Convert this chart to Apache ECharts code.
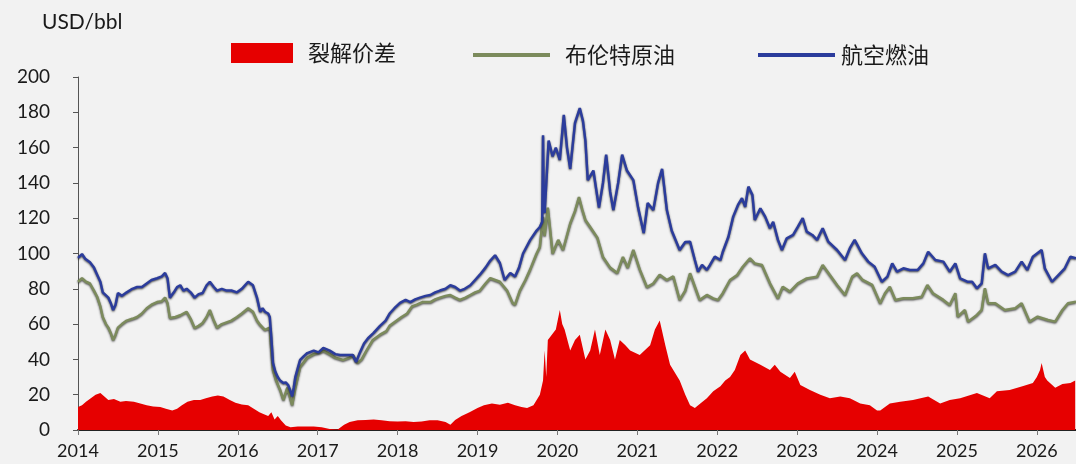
<!DOCTYPE html>
<html>
<head>
<meta charset="utf-8">
<script src="https://cdn.jsdelivr.net/npm/echarts@6/dist/echarts.min.js"></script>
<style>
html,body{margin:0;padding:0;background:#f2f2f2;}
#chart{width:1076px;height:464px;}
</style>
</head>
<body>
<div id="chart"></div>
<script>
// Series names
const seriesNames = ['裂解价差', '布伦特原油', '航空燃油'];
const unitLabel = 'USD/bbl';
// x = decimal year, y = USD/bbl
const crackSpread = [
[2014.00,13],[2014.05,14],[2014.10,16],[2014.16,18],[2014.22,20],[2014.28,21],[2014.33,19],[2014.38,17],[2014.45,17.5],[2014.53,16],[2014.60,16.5],[2014.70,16],[2014.78,15],[2014.86,14],[2014.94,13.3],[2015.03,13],[2015.10,12],[2015.18,11],[2015.24,12],[2015.30,14],[2015.37,16],[2015.45,17],[2015.53,17],[2015.60,18],[2015.68,19],[2015.75,19.5],[2015.82,19],[2015.90,17],[2015.97,15.5],[2016.05,14.5],[2016.13,14],[2016.20,12],[2016.27,10],[2016.32,9],[2016.38,8],[2016.42,10],[2016.46,6],[2016.50,8],[2016.54,5.5],[2016.60,2.5],[2016.66,1.5],[2016.75,2],[2016.85,2],[2016.95,2],[2017.05,1.5],[2017.15,0.5],[2017.25,0.3],[2017.33,3],[2017.40,4.5],[2017.50,5.5],[2017.60,5.7],[2017.70,6],[2017.80,5.5],[2017.90,5],[2018.00,4.8],[2018.10,5],[2018.20,4.5],[2018.30,4.8],[2018.40,5.5],[2018.50,5.5],[2018.60,4.5],[2018.66,3],[2018.72,5.7],[2018.80,8],[2018.90,10],[2019.00,12.4],[2019.08,14],[2019.18,15],[2019.28,14.3],[2019.38,15.5],[2019.47,14],[2019.55,13],[2019.62,12.5],[2019.70,14],[2019.78,20],[2019.82,28],[2019.84,45],[2019.86,30],[2019.88,51],[2019.93,54],[2019.98,57],[2020.03,68],[2020.06,60],[2020.09,57],[2020.16,45],[2020.22,51],[2020.28,54],[2020.35,40],[2020.41,45],[2020.47,57],[2020.53,42.5],[2020.60,57],[2020.66,51],[2020.72,40],[2020.78,51],[2020.85,48],[2020.91,45],[2021.03,42.5],[2021.16,48],[2021.22,57],[2021.28,62],[2021.35,48],[2021.41,37],[2021.53,28],[2021.60,20],[2021.66,14],[2021.72,12.5],[2021.80,15.5],[2021.87,18],[2021.95,22],[2022.04,24.8],[2022.10,28],[2022.16,30],[2022.22,34],[2022.29,42.5],[2022.35,45],[2022.41,40],[2022.54,37],[2022.66,34],[2022.72,37],[2022.79,33],[2022.91,29.5],[2022.97,33],[2023.04,25.5],[2023.16,22.7],[2023.29,20],[2023.41,18],[2023.54,19],[2023.66,18],[2023.79,15],[2023.91,14],[2024.00,11],[2024.04,11],[2024.16,15],[2024.29,16],[2024.45,17],[2024.64,19],[2024.79,15],[2024.91,17],[2025.04,18],[2025.25,21],[2025.41,18],[2025.50,22],[2025.66,22.7],[2025.83,25],[2025.95,26.6],[2026.00,30],[2026.04,34],[2026.06,38],[2026.10,30],[2026.13,28],[2026.23,24],[2026.32,26],[2026.42,26.6],[2026.48,28]
];
const brent = [
[2014.00,84],[2014.05,86],[2014.10,84],[2014.15,83],[2014.20,79],[2014.24,75.5],[2014.28,70],[2014.31,64],[2014.35,60],[2014.38,58],[2014.41,55],[2014.44,51],[2014.47,54],[2014.50,58],[2014.55,60],[2014.61,62],[2014.68,63],[2014.74,64],[2014.80,66],[2014.86,69],[2014.92,71],[2014.99,72.5],[2015.05,73],[2015.09,75],[2015.12,72],[2015.15,63.5],[2015.22,64],[2015.28,65],[2015.32,66],[2015.36,67],[2015.41,63],[2015.46,57.8],[2015.51,59],[2015.56,60.6],[2015.61,64],[2015.65,68],[2015.70,62],[2015.74,58],[2015.80,60],[2015.86,61],[2015.92,62],[2015.99,64],[2016.05,66],[2016.13,69],[2016.19,67],[2016.24,62],[2016.28,59.5],[2016.34,56.7],[2016.40,58],[2016.42,45],[2016.44,34],[2016.48,28],[2016.53,22.7],[2016.57,17],[2016.62,24],[2016.65,19],[2016.68,14],[2016.72,24],[2016.78,35.7],[2016.87,41],[2016.95,43],[2017.03,44],[2017.07,45],[2017.15,43],[2017.22,41],[2017.32,39.7],[2017.40,41],[2017.44,42.5],[2017.50,38],[2017.55,40],[2017.61,45],[2017.69,51],[2017.78,54],[2017.86,56],[2017.90,59],[2017.99,62],[2018.05,64],[2018.12,66],[2018.18,70],[2018.24,71],[2018.31,72.5],[2018.41,72.5],[2018.47,74],[2018.53,75],[2018.60,76],[2018.66,76.5],[2018.72,75],[2018.78,73.7],[2018.85,75],[2018.91,76.5],[2018.97,78],[2019.03,79],[2019.10,83],[2019.16,86],[2019.22,85],[2019.28,84],[2019.37,79],[2019.44,72],[2019.47,71],[2019.53,79],[2019.60,85],[2019.66,91],[2019.74,100],[2019.78,103.7],[2019.82,120.7],[2019.84,110],[2019.88,126],[2019.94,100],[2020.01,107.7],[2020.07,102],[2020.16,117],[2020.22,124],[2020.27,132],[2020.31,125],[2020.35,119],[2020.41,115],[2020.50,109],[2020.57,98],[2020.66,92],[2020.75,89],[2020.82,98],[2020.88,92],[2020.95,102],[2021.03,91],[2021.12,81],[2021.20,83],[2021.28,88],[2021.37,85],[2021.45,87],[2021.53,73.7],[2021.60,79],[2021.66,88.8],[2021.75,77.5],[2021.78,73.7],[2021.87,76.5],[2021.95,74.6],[2022.01,73.7],[2022.07,77.5],[2022.16,85],[2022.25,87.8],[2022.32,92.5],[2022.41,97.3],[2022.47,94.4],[2022.56,93.5],[2022.66,83.1],[2022.76,74.6],[2022.82,81.2],[2022.91,78.4],[2023.01,83.1],[2023.12,85.9],[2023.25,86.9],[2023.32,93.5],[2023.41,87.8],[2023.50,82.2],[2023.60,76.5],[2023.69,86.9],[2023.75,88.8],[2023.82,85],[2023.94,82.2],[2024.04,71.8],[2024.10,77.5],[2024.16,81.2],[2024.23,73.7],[2024.33,74.6],[2024.45,74.6],[2024.56,75.5],[2024.63,82.2],[2024.70,77.5],[2024.83,73.7],[2024.91,70.8],[2024.98,77.5],[2025.01,64.2],[2025.10,68],[2025.14,61.4],[2025.25,65.2],[2025.31,68],[2025.35,80.3],[2025.39,71.8],[2025.48,71.8],[2025.60,68],[2025.73,69],[2025.81,71.8],[2025.91,61.4],[2026.01,64.2],[2026.14,62.3],[2026.23,61.4],[2026.32,68],[2026.39,71.8],[2026.49,72.7]
];
const jetFuel = [
[2014.00,97.5],[2014.05,99.7],[2014.09,97],[2014.15,95],[2014.20,92],[2014.24,88],[2014.28,84],[2014.31,78],[2014.38,75],[2014.41,72],[2014.44,68],[2014.47,71],[2014.50,77.6],[2014.55,76],[2014.61,78],[2014.68,80],[2014.74,81],[2014.80,81],[2014.86,83],[2014.92,85],[2014.99,86],[2015.05,87],[2015.09,89],[2015.12,86],[2015.15,75],[2015.20,78],[2015.24,81],[2015.28,82],[2015.32,79],[2015.36,80],[2015.41,78],[2015.46,75],[2015.51,77],[2015.56,77.6],[2015.61,82],[2015.65,84],[2015.70,81],[2015.74,79],[2015.80,80],[2015.86,79],[2015.92,79],[2015.99,78],[2016.05,80],[2016.13,84],[2016.19,82],[2016.24,75],[2016.28,67],[2016.31,69],[2016.34,67],[2016.38,66],[2016.40,64],[2016.42,52],[2016.44,38],[2016.47,33],[2016.50,30],[2016.53,28],[2016.57,26.6],[2016.60,27],[2016.63,25.5],[2016.66,22],[2016.68,19],[2016.70,24],[2016.72,30],[2016.75,35],[2016.78,39.7],[2016.83,42],[2016.87,43.6],[2016.95,45],[2017.01,44],[2017.07,46.5],[2017.15,45],[2017.22,43],[2017.28,42.5],[2017.36,42.5],[2017.44,42.5],[2017.48,38.5],[2017.52,43],[2017.58,49],[2017.63,52],[2017.70,55],[2017.78,59],[2017.85,62],[2017.90,66],[2017.96,69],[2018.03,72],[2018.10,73.7],[2018.16,72.5],[2018.22,74],[2018.28,75],[2018.35,76],[2018.41,76.5],[2018.47,78],[2018.53,79],[2018.60,80],[2018.66,82],[2018.72,81],[2018.78,79],[2018.84,80],[2018.91,82],[2018.97,85],[2019.03,88],[2019.10,92],[2019.16,96],[2019.22,99],[2019.28,94.6],[2019.34,85],[2019.41,89],[2019.47,87],[2019.52,92],[2019.57,100],[2019.66,107.7],[2019.74,113],[2019.78,115],[2019.81,118],[2019.82,167],[2019.83,125],[2019.84,123],[2019.89,164],[2019.94,155],[2019.98,160],[2020.03,153],[2020.08,178.5],[2020.12,160],[2020.16,148],[2020.22,174],[2020.28,182.4],[2020.32,175],[2020.35,164],[2020.38,141.6],[2020.45,147],[2020.52,126],[2020.57,140],[2020.61,156],[2020.66,135],[2020.70,124.6],[2020.76,140],[2020.81,156],[2020.87,147],[2020.95,141.6],[2021.01,126],[2021.08,111.6],[2021.13,128.6],[2021.20,124.6],[2021.26,140],[2021.31,148],[2021.37,124.6],[2021.43,113],[2021.53,102],[2021.60,106.5],[2021.66,106.7],[2021.72,96.3],[2021.76,89.7],[2021.81,93.5],[2021.87,90.7],[2021.91,93.5],[2021.97,98.2],[2022.04,96.3],[2022.07,101],[2022.14,109.5],[2022.20,120.9],[2022.26,127.5],[2022.31,131.3],[2022.35,126.5],[2022.39,137.9],[2022.44,133.2],[2022.47,119],[2022.54,125.6],[2022.60,120.9],[2022.66,114.3],[2022.70,118],[2022.76,107.7],[2022.81,102],[2022.87,108.6],[2022.95,110.5],[2023.01,115.2],[2023.07,120],[2023.12,112.4],[2023.19,110.5],[2023.25,107.7],[2023.32,114.3],[2023.39,106.7],[2023.50,102],[2023.60,96.3],[2023.66,103],[2023.72,107.7],[2023.81,100.1],[2023.89,95.4],[2023.97,92.5],[2024.06,84],[2024.13,86.9],[2024.19,94.4],[2024.25,89.7],[2024.33,91.6],[2024.41,90.7],[2024.51,90.7],[2024.58,94.4],[2024.64,101],[2024.73,96.3],[2024.83,95.4],[2024.91,89.7],[2024.98,94.4],[2025.04,85.9],[2025.13,84],[2025.19,84],[2025.25,80.3],[2025.31,83.1],[2025.35,100.1],[2025.39,91.6],[2025.48,93.5],[2025.56,89.7],[2025.64,87.8],[2025.73,89.7],[2025.81,95.4],[2025.88,90.7],[2025.95,98.2],[2026.06,102],[2026.10,91.6],[2026.19,84],[2026.27,87.8],[2026.35,91.6],[2026.42,98.2],[2026.49,97.3]
];
const xMin = 2014, xMax = 2026.49, xStep = 1;
const yMin = 0, yMax = 200, yStep = 20;

const numFont = 'Lato, "Noto Sans", sans-serif';
const cjkFont = '"Noto Sans CJK SC", sans-serif';
const chart = echarts.init(document.getElementById('chart'));
const legendText = {fontFamily: cjkFont, fontSize: 22, color: '#1a1a1a', lineHeight: 24, padding: [0,0,0,10]};
chart.setOption({
  backgroundColor: '#f2f2f2',
  animation: false,
  title: {text: unitLabel, left: 37, top: 7, textStyle: {fontFamily: numFont, fontSize: 21, fontWeight: 'normal', color: '#1a1a1a'}},
  legend: [
    {data: [seriesNames[0]], left: 231, top: 41, padding: 0, icon: 'rect', itemWidth: 62, itemHeight: 20, textStyle: legendText},
    {data: [seriesNames[1]], left: 473, top: 43, padding: 0, icon: 'rect', itemWidth: 77, itemHeight: 4, textStyle: legendText},
    {data: [seriesNames[2]], left: 758, top: 43, padding: 0, icon: 'rect', itemWidth: 77, itemHeight: 4, textStyle: Object.assign({}, legendText, {padding: [0,0,0,1]})}
  ],
  grid: {left: 78, right: 0, top: 77, bottom: 34},
  xAxis: {
    type: 'value', min: xMin, max: xMax, interval: xStep,
    axisLine: {lineStyle: {color: '#222', width: 2}},
    axisTick: {length: 5, lineStyle: {color: '#777'}},
    splitLine: {show: false},
    axisLabel: {showMaxLabel: false, margin: 12, fontFamily: numFont, fontSize: 18, color: '#1a1a1a', formatter: v => String(Math.round(v))}
  },
  yAxis: {
    type: 'value', min: yMin, max: yMax, interval: yStep,
    axisLine: {show: true, lineStyle: {color: '#555', width: 1}},
    axisTick: {show: true, length: 5, lineStyle: {color: '#555'}},
    splitLine: {show: false},
    axisLabel: {margin: 28, fontFamily: numFont, fontSize: 19, color: '#1a1a1a'}
  },
  series: [
    {name: seriesNames[0], type: 'line', data: crackSpread, symbol: 'none', color: '#e60000',
     lineStyle: {width: 0}, areaStyle: {color: '#e60000', opacity: 1}},
    {name: seriesNames[1], type: 'line', data: brent, symbol: 'none', color: '#7c8b5c',
     lineStyle: {width: 2.5, color: '#7c8b5c', shadowColor: 'rgba(30,30,30,0.75)', shadowBlur: 2, shadowOffsetY: 1}},
    {name: seriesNames[2], type: 'line', data: jetFuel, symbol: 'none', color: '#2b3c9c',
     lineStyle: {width: 2.5, color: '#2b3c9c', shadowColor: 'rgba(30,30,30,0.75)', shadowBlur: 2, shadowOffsetY: 1}}
  ]
});
</script>
</body>
</html>
